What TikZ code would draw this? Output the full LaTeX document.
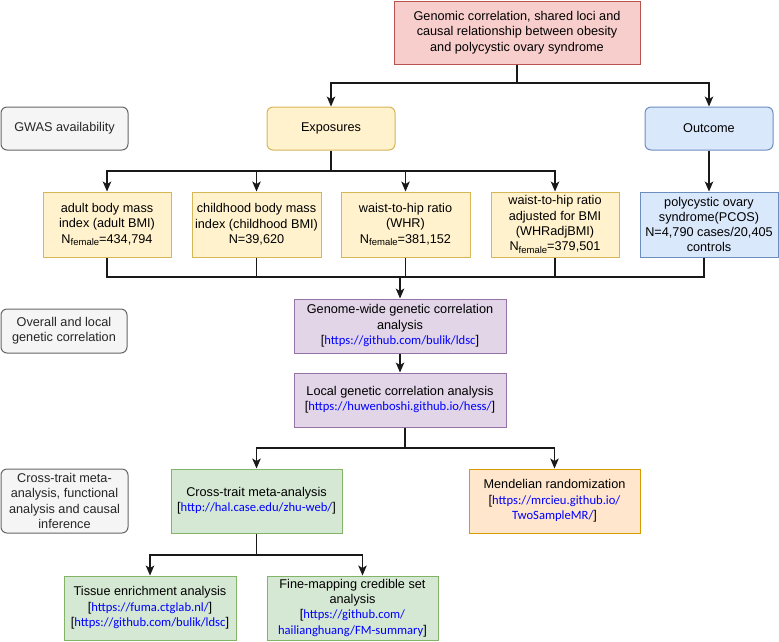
\documentclass[tikz,border=0pt]{standalone}
\usepackage{fontspec}
\setmainfont{Liberation Sans}
\newfontfamily\linkfont{Carlito}
\usetikzlibrary{arrows.meta}
\definecolor{redf}{HTML}{F8CECC}\definecolor{redd}{HTML}{B85450}
\definecolor{yelf}{HTML}{FFF2CC}\definecolor{yeld}{HTML}{D6B656}
\definecolor{bluf}{HTML}{DAE8FC}\definecolor{blud}{HTML}{6C8EBF}
\definecolor{purf}{HTML}{E1D5E7}\definecolor{purd}{HTML}{9673A6}
\definecolor{grnf}{HTML}{D5E8D4}\definecolor{grnd}{HTML}{82B366}
\definecolor{orgf}{HTML}{FFE6CC}\definecolor{orgd}{HTML}{D79B00}
\definecolor{gryf}{HTML}{F5F5F5}\definecolor{gryd}{HTML}{666666}
\definecolor{linkblue}{HTML}{0000FF}
\newcommand\urltxt[1]{{\linkfont\fontsize{12.6}{15}\selectfont\color{linkblue}#1}}
\newcommand\Nf{N\raisebox{-0.35ex}{\fontsize{9.5}{10}\selectfont female}}
\tikzset{
  box/.style={draw, line width=1pt, align=center, inner sep=0pt,
    font=\fontsize{12.7}{15.3}\selectfont, text=black},
  redbox/.style={box, fill=redf, draw=redd},
  yelbox/.style={box, fill=yelf, draw=yeld},
  blubox/.style={box, fill=bluf, draw=blud},
  purbox/.style={box, fill=purf, draw=purd},
  grnbox/.style={box, fill=grnf, draw=grnd},
  orgbox/.style={box, fill=orgf, draw=orgd},
  grybox/.style={box, fill=gryf, draw=gryd, rounded corners=6pt, text=black!85},
  conn/.style={line width=1.1pt, draw=black!90},
  arr/.style={conn, -{Stealth[length=10pt,width=8.5pt,inset=2.5pt]}},
}
\begin{document}
\begin{tikzpicture}[x=1pt,y=-1pt]
\useasboundingbox (0,0) rectangle (779,641);
% top
\node[redbox, minimum width=246pt, minimum height=63pt] (top) at (517,32.5)
  {Genomic correlation, shared loci and\\causal relationship between obesity\\and polycystic ovary syndrome};
% row 2
\node[grybox, minimum width=127pt, minimum height=43pt] (gwas) at (64.5,128.5) {GWAS availability};
\node[yelbox, rounded corners=6pt, minimum width=128pt, minimum height=43pt] (exp) at (331,128.5) {Exposures};
\node[blubox, rounded corners=6pt, minimum width=128pt, minimum height=43pt] (out) at (709,128.5) {Outcome};
% row 3
\node[yelbox, minimum width=128pt, minimum height=65pt] (adult) at (107,224.5)
  {adult body mass\\index (adult BMI)\\\Nf=434,794};
\node[yelbox, minimum width=129pt, minimum height=65pt] (child) at (256.5,224.5)
  {childhood body mass\\index (childhood BMI)\\N=39,620};
\node[yelbox, minimum width=129pt, minimum height=65pt] (whr) at (405.5,224.5)
  {waist-to-hip ratio\\(WHR)\\\Nf=381,152};
\node[yelbox, minimum width=128pt, minimum height=65pt] (whradj) at (555,224.5)
  {waist-to-hip ratio\\adjusted for BMI\\(WHRadjBMI)\\\Nf=379,501};
\node[blubox, minimum width=138pt, minimum height=65pt] (pcos) at (709,224.5)
  {polycystic ovary\\syndrome(PCOS)\\N=4,790 cases/20,405\\controls};
% correlation
\node[grybox, minimum width=126pt, minimum height=44pt] (overall) at (64,331)
  {Overall and local\\genetic correlation};
\node[purbox, minimum width=212pt, minimum height=54pt] (genome) at (400,326)
  {Genome-wide genetic correlation\\analysis\\{[}\urltxt{https://github.com/bulik/ldsc}]};
\node[purbox, minimum width=212pt, minimum height=54pt] (local) at (400,400)
  {Local genetic correlation analysis\\{[}\urltxt{https://huwenboshi.github.io/hess/}]};
% cross-trait
\node[grybox, minimum width=127pt, minimum height=64pt] (crossg) at (64.5,501)
  {Cross-trait meta-\\analysis, functional\\analysis and causal\\inference};
\node[grnbox, minimum width=171pt, minimum height=64pt] (cross) at (256.5,501)
  {Cross-trait meta-analysis\\{[}\urltxt{http://hal.case.edu/zhu-web/}]};
\node[orgbox, minimum width=171pt, minimum height=64pt] (mr) at (554.5,501)
  {Mendelian randomization\\{[}\urltxt{https://mrcieu.github.io/}\\\urltxt{TwoSampleMR/}]};
\node[grnbox, minimum width=172pt, minimum height=64pt] (tissue) at (150,608)
  {Tissue enrichment analysis\\{[}\urltxt{https://fuma.ctglab.nl/}]\\{[}\urltxt{https://github.com/bulik/ldsc}]};
\node[grnbox, minimum width=171pt, minimum height=64pt] (fine) at (352.5,608)
  {Fine-mapping credible set\\analysis\\{[}\urltxt{https://github.com/}\\\urltxt{hailianghuang/FM-summary}]};
% connectors
\coordinate (t1) at (517,83);
\draw[conn] (top.south) -- (t1);
\draw[arr] (t1) -| (exp.north);
\draw[arr] (t1) -| (out.north);
\coordinate (e1) at (331,171);
\draw[conn] (exp.south) -- (e1);
\draw[arr] (e1) -| (adult.north);
\draw[arr] (e1) -| (child.north);
\draw[arr] (e1) -| (whr.north);
\draw[arr] (e1) -| (whradj.north);
\draw[arr] (out.south) -- (pcos.north);
\coordinate (j1) at (400,277);
\draw[conn] (adult.south) |- (j1);
\draw[conn] (child.south) |- (j1);
\draw[conn] (whr.south) |- (j1);
\draw[conn] (whradj.south) |- (j1);
\draw[conn] ([xshift=-5pt]pcos.south) |- (j1);
\draw[arr] (j1) -- (genome.north);
\draw[arr] (genome.south) -- (local.north);
\coordinate (l1) at (405,448);
\draw[conn] ([xshift=5pt]local.south) -- (l1);
\draw[arr] (l1) -| (cross.north);
\draw[arr] (l1) -| (mr.north);
\coordinate (c1) at (256.5,555);
\draw[conn] (cross.south) -- (c1);
\draw[arr] (c1) -| (tissue.north);
\draw[arr] (c1) -| ([xshift=10pt]fine.north);
\end{tikzpicture}
\end{document}
